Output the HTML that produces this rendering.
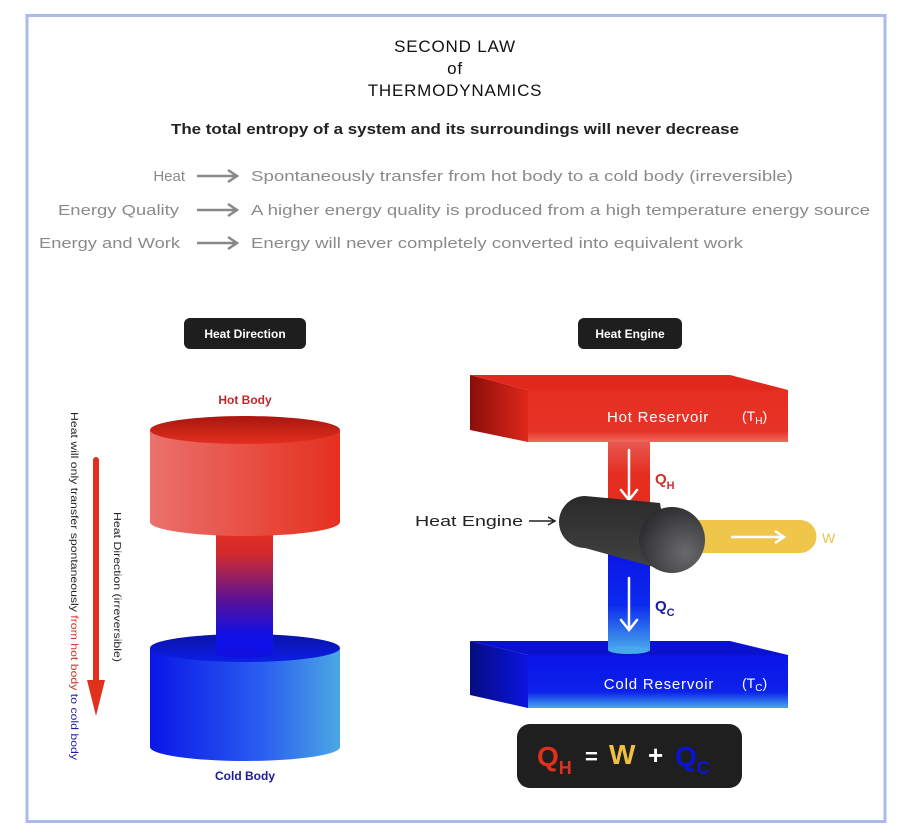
<!DOCTYPE html>
<html><head><meta charset="utf-8"><style>
html,body{margin:0;padding:0;background:#fff}
svg{display:block}
text{font-family:"Liberation Sans",sans-serif}
</style></head><body>
<svg width="917" height="840" viewBox="0 0 917 840" xmlns="http://www.w3.org/2000/svg">
<defs>
<linearGradient id="hotFront" x1="0" x2="1" y1="0" y2="0"><stop offset="0" stop-color="#ea716b"/><stop offset="1" stop-color="#e5301f"/></linearGradient>
<linearGradient id="hotTop" x1="0" x2="0" y1="0" y2="1"><stop offset="0" stop-color="#a8160e"/><stop offset="1" stop-color="#e52e20"/></linearGradient>
<linearGradient id="coldFront" x1="0" x2="1" y1="0" y2="0"><stop offset="0" stop-color="#0a16e8"/><stop offset="0.6" stop-color="#2a5ff0"/><stop offset="1" stop-color="#4aa8e4"/></linearGradient>
<linearGradient id="coldTop" x1="0" x2="0" y1="0" y2="1"><stop offset="0" stop-color="#0a12a8"/><stop offset="1" stop-color="#0c1ee6"/></linearGradient>
<linearGradient id="stem" x1="0" x2="0" y1="0" y2="1"><stop offset="0" stop-color="#e52e20"/><stop offset="0.2" stop-color="#d02a30"/><stop offset="0.6" stop-color="#5010a0"/><stop offset="0.85" stop-color="#1010e8"/><stop offset="1" stop-color="#1010e8"/></linearGradient>
<linearGradient id="hrFront" x1="0" x2="0" y1="0" y2="1"><stop offset="0" stop-color="#e52e20"/><stop offset="0.8" stop-color="#e63428"/><stop offset="1" stop-color="#ef6a60"/></linearGradient>
<linearGradient id="hrSide" x1="0" x2="1" y1="0" y2="0"><stop offset="0" stop-color="#8a0e08"/><stop offset="1" stop-color="#e0281c"/></linearGradient>
<linearGradient id="crFront" x1="0" x2="0" y1="0" y2="1"><stop offset="0" stop-color="#0a14e6"/><stop offset="0.7" stop-color="#0c22ea"/><stop offset="1" stop-color="#44a8ec"/></linearGradient>
<linearGradient id="crSide" x1="0" x2="1" y1="0" y2="0"><stop offset="0" stop-color="#060c80"/><stop offset="1" stop-color="#0a14e0"/></linearGradient>
<linearGradient id="hotPipe" x1="0" x2="0" y1="0" y2="1"><stop offset="0" stop-color="#e85850"/><stop offset="0.5" stop-color="#e52e20"/><stop offset="1" stop-color="#e52e20"/></linearGradient>
<linearGradient id="coldPipe" x1="0" x2="0" y1="0" y2="1"><stop offset="0" stop-color="#0a14e6"/><stop offset="0.55" stop-color="#0c2aee"/><stop offset="1" stop-color="#48a8ec"/></linearGradient>
<linearGradient id="eng" x1="0" x2="0" y1="0" y2="1"><stop offset="0" stop-color="#2a2a2c"/><stop offset="1" stop-color="#444"/></linearGradient>
<radialGradient id="cap" cx="0.7" cy="0.7" r="0.8"><stop offset="0" stop-color="#6a6a6c"/><stop offset="1" stop-color="#2a2a2c"/></radialGradient>
</defs>
<rect x="27" y="15.5" width="858" height="806" fill="#fff" stroke="#aabaee" stroke-width="3"/>

<g text-anchor="middle" fill="#111" font-size="17" letter-spacing="0.8">
<text x="455" y="52">SECOND LAW</text>
<text x="455" y="74">of</text>
<text x="455" y="96">THERMODYNAMICS</text>
</g>
<text x="455" y="134" text-anchor="middle" font-size="15" font-weight="bold" fill="#222" textLength="568" lengthAdjust="spacingAndGlyphs">The total entropy of a system and its surroundings will never decrease</text>

<g fill="#8a8a8a" font-size="15">
<text x="185" y="181" text-anchor="end">Heat</text>
<text x="179" y="215" text-anchor="end" textLength="121" lengthAdjust="spacingAndGlyphs">Energy Quality</text>
<text x="180" y="248" text-anchor="end" textLength="141" lengthAdjust="spacingAndGlyphs">Energy and Work</text>
<text x="251" y="181" textLength="542" lengthAdjust="spacingAndGlyphs">Spontaneously transfer from hot body to a cold body (irreversible)</text>
<text x="251" y="215" textLength="619" lengthAdjust="spacingAndGlyphs">A higher energy quality is produced from a high temperature energy source</text>
<text x="251" y="248" textLength="492" lengthAdjust="spacingAndGlyphs">Energy will never completely converted into equivalent work</text>
</g>
<g stroke="#888" stroke-width="2.5" fill="none">
<path d="M197 176 H236 M228 170 L237 176 L228 182"/>
<path d="M197 210 H236 M228 204 L237 210 L228 216"/>
<path d="M197 243 H236 M228 237 L237 243 L228 249"/>
</g>

<rect x="184" y="318" width="122" height="31" rx="6" fill="#1e1e1e"/>
<text x="245" y="338" text-anchor="middle" fill="#fff" font-size="12" font-weight="bold">Heat Direction</text>
<rect x="578" y="318" width="104" height="31" rx="6" fill="#1e1e1e"/>
<text x="630" y="338" text-anchor="middle" fill="#fff" font-size="12" font-weight="bold">Heat Engine</text>

<text x="245" y="404" text-anchor="middle" fill="#c0282a" font-size="12" font-weight="bold">Hot Body</text>
<path d="M150 648 V747 A95 14 0 0 0 340 747 V648 Z" fill="url(#coldFront)"/>
<ellipse cx="245" cy="648" rx="95" ry="14" fill="url(#coldTop)"/>
<rect x="216" y="530" width="57" height="124" fill="url(#stem)"/>
<ellipse cx="244.5" cy="653" rx="28.5" ry="5" fill="#1010e0"/>
<path d="M150 430 V522 A95 14 0 0 0 340 522 V430 Z" fill="url(#hotFront)"/>
<ellipse cx="245" cy="430" rx="95" ry="14" fill="url(#hotTop)"/>
<text x="245" y="780" text-anchor="middle" fill="#1a1a9a" font-size="12" font-weight="bold">Cold Body</text>

<path d="M96 460 V690" stroke="#e0301e" stroke-width="6" stroke-linecap="round"/>
<path d="M87 680 L96 716 L105 680 Z" fill="#e0301e"/>
<text transform="translate(71 412) rotate(90)" font-size="10.5" fill="#222" textLength="348" lengthAdjust="spacingAndGlyphs">Heat will only transfer spontaneously <tspan fill="#d0302a">from hot body</tspan> <tspan fill="#1a1aa8">to cold body</tspan></text>
<text transform="translate(114 512) rotate(90)" font-size="10.5" fill="#222" textLength="150" lengthAdjust="spacingAndGlyphs">Heat Direction (irreversible)</text>

<path d="M470 375 L528 390 V442 L470 430 Z" fill="url(#hrSide)"/>
<path d="M470 375 L730 375 L788 390 L528 390 Z" fill="#e0281c"/>
<rect x="528" y="390" width="260" height="52" fill="url(#hrFront)"/>
<text x="658" y="422" text-anchor="middle" fill="#fff" font-size="15" letter-spacing="0.8">Hot Reservoir</text>
<text x="742" y="421" fill="#fff" font-size="14">(T<tspan font-size="10" dy="3">H</tspan><tspan dy="-3">)</tspan></text>
<path d="M470 641 L528 655 V708 L470 695 Z" fill="url(#crSide)"/>
<path d="M470 641 L730 641 L788 655 L528 655 Z" fill="#0a12d0"/>
<rect x="528" y="655" width="260" height="53" fill="url(#crFront)"/>
<text x="659" y="689" text-anchor="middle" fill="#fff" font-size="15" letter-spacing="0.8">Cold Reservoir</text>
<text x="742" y="688" fill="#fff" font-size="14">(T<tspan font-size="10" dy="3">C</tspan><tspan dy="-3">)</tspan></text>
<rect x="608" y="442" width="42" height="64" fill="url(#hotPipe)"/>
<rect x="608" y="550" width="42" height="100" fill="url(#coldPipe)"/>
<ellipse cx="629" cy="650" rx="21" ry="4" fill="#48a8ec"/>
<g stroke="#fff" stroke-width="2.5" fill="none" stroke-linecap="round">
<path d="M629 450 V500 M621 490 L629 500 L637 490"/>
<path d="M629 578 V630 M621 620 L629 630 L637 620"/>
</g>
<text x="655" y="484" fill="#d0302a" font-size="15" font-weight="bold">Q<tspan font-size="11" dy="5">H</tspan></text>
<text x="655" y="611" fill="#1a1aa8" font-size="15" font-weight="bold">Q<tspan font-size="11" dy="5">C</tspan></text>
<path d="M690 520 H800 A16.5 16.5 0 0 1 800 553 H690 Z" fill="#f0c64a"/>
<path d="M731 537 H783 M775 531 L784 537 L775 543" stroke="#fff" stroke-width="2.5" fill="none"/>
<text x="822" y="543" fill="#e8c24a" font-size="14">W</text>
<path d="M585 496 L660 503 L672 572 L585 548 A26 26 0 0 1 585 496 Z" fill="url(#eng)"/>
<circle cx="672" cy="540" r="33" fill="url(#cap)"/>
<text x="415" y="526" fill="#222" font-size="15" textLength="108" lengthAdjust="spacingAndGlyphs">Heat Engine</text>
<path d="M529 521 H554 M548 517 L555 521 L548 525" stroke="#222" stroke-width="1.5" fill="none"/>
<rect x="517" y="724" width="225" height="64" rx="13" fill="#1f1f1f"/>
<text x="537" y="766" font-size="28" font-weight="bold" fill="#e0301e">Q<tspan font-size="18" dy="8">H</tspan></text>
<text x="585" y="764" font-size="22" font-weight="bold" fill="#fff">=</text>
<text x="609" y="764" font-size="28" font-weight="bold" fill="#f0c040">W</text>
<text x="648" y="764" font-size="26" font-weight="bold" fill="#fff">+</text>
<text x="675" y="766" font-size="28" font-weight="bold" fill="#0a14d8">Q<tspan font-size="18" dy="8">C</tspan></text>
</svg>
</body></html>
